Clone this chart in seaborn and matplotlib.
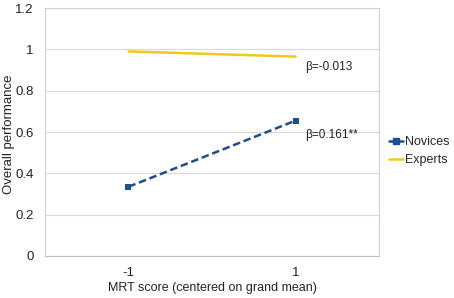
import pandas as pd
import matplotlib
matplotlib.use('Agg')
import matplotlib.pyplot as plt
from matplotlib.lines import Line2D
import seaborn as sns

# dane
mrt_levels = ['-1', '1']
novices = [0.335, 0.655]
experts = [0.99, 0.965]
beta_labels = {'Experts': 'β=-0.013', 'Novices': 'β=0.161**'}

df_nov = pd.DataFrame({'MRT': mrt_levels, 'perf': novices})
df_exp = pd.DataFrame({'MRT': mrt_levels, 'perf': experts})

sns.set_style('white')
plt.rcParams['font.family'] = ['Liberation Sans', 'DejaVu Sans']

fig = plt.figure(figsize=(4.54, 2.98), dpi=100)
ax = fig.add_axes([0.099, 0.141, 0.736, 0.832])

palette = {'Novices': '#1F4E8A', 'Experts': '#F2C81A'}
sns.lineplot(data=df_exp, x='MRT', y='perf', color=palette['Experts'],
             linewidth=1.8, ax=ax)
sns.lineplot(data=df_nov, x='MRT', y='perf', color=palette['Novices'],
             linewidth=1.8, linestyle=(0, (3, 1.5)), marker='s', markersize=5,
             markeredgewidth=0, ax=ax)

ax.set_xlim(-0.5, 1.5)
ax.set_ylim(0, 1.2)
ax.set_yticks([0, 0.2, 0.4, 0.6, 0.8, 1.0, 1.2])
ax.set_yticklabels(['0', '0.2', '0.4', '0.6', '0.8', '1', '1.2'])
ax.set_xticks([-0.5, 0.5, 1.5], minor=True)
ax.tick_params(axis='x', which='major', length=0, pad=8)
ax.tick_params(axis='x', which='minor', length=4, color='#BFBFBF', width=0.8)
ax.tick_params(axis='y', length=0, pad=8)
ax.tick_params(labelsize=9.5, colors='#222222')
ax.grid(axis='y', color='#D9D9D9', linewidth=0.8)
for s in ax.spines.values():
    s.set_color('#D0D0D0')
    s.set_linewidth(0.8)
ax.spines['bottom'].set_color('#BFBFBF')

ax.set_xlabel('MRT score (centered on grand mean)', fontsize=9, color='#222222', labelpad=2)
ax.set_ylabel('Overall performance', fontsize=9.5, color='#222222', va='center')
ax.yaxis.set_label_coords(-0.108, 0.49)

# adnotacje beta przy prawym końcu linii
ax.text(1.06, experts[1] - 0.02, beta_labels['Experts'], fontsize=8.5, va='top', ha='left', color='#222222')
ax.text(1.06, novices[1] - 0.04, beta_labels['Novices'], fontsize=8.5, va='top', ha='left', color='#222222')

# legenda z prawej strony
handles = [
    Line2D([], [], color=palette['Novices'], marker='s', markersize=4, linewidth=1.8),
    Line2D([], [], color=palette['Experts'], linewidth=1.8),
]
fig.legend(handles, ['Novices', 'Experts'], loc='center left', bbox_to_anchor=(0.857, 0.493),
           frameon=False, fontsize=9, handlelength=1.1, handletextpad=0.15, labelspacing=0.45,
           borderpad=0, borderaxespad=0)

plt.savefig('out.png', dpi=100)
plt.close()
